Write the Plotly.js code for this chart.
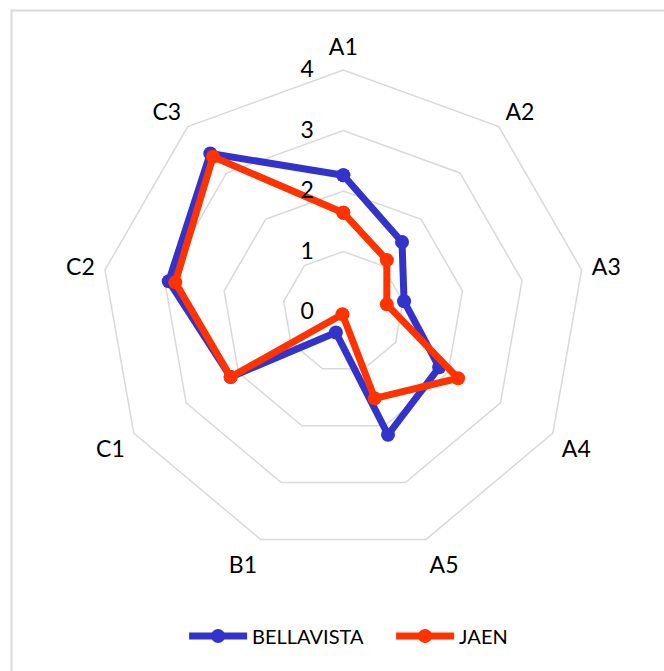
<!DOCTYPE html>
<html>
<head>
<meta charset="utf-8">
<script src="https://cdn.plot.ly/plotly-3.0.1.min.js"></script>
<style>html,body{margin:0;padding:0;background:#fff;}#chart{width:664px;height:671px;}</style>
</head>
<body>
<div id="chart"></div>
<script>
const categories = ["A1","A2","A3","A4","A5","B1","C1","C2","C3"];
const bellavista = [2.26, 1.51, 1.02, 1.83, 2.16, 0.36, 2.15, 2.93, 3.42];
const jaen = [1.64, 1.12, 0.73, 2.19, 1.52, 0.04, 2.15, 2.82, 3.35];
const seriesNames = ["BELLAVISTA", "JAEN"];
const radialTicks = [0, 1, 2, 3, 4];

function closeLoop(arr){ return arr.concat([arr[0]]); }

const FONT = "Lato, 'Noto Sans', sans-serif";
const traces = [
  {type:"scatterpolar", name:seriesNames[0], r:closeLoop(bellavista), theta:closeLoop(categories),
   mode:"lines+markers", line:{color:"#3333CC", width:7}, marker:{color:"#3333CC", size:14}},
  {type:"scatterpolar", name:seriesNames[1], r:closeLoop(jaen), theta:closeLoop(categories),
   mode:"lines+markers", line:{color:"#FF3300", width:7}, marker:{color:"#FF3300", size:14}}
];

const W=664, H=671, cx=343.3, cy=312, R=242;
const layout = {
  width:W, height:H,
  margin:{l:0,r:0,t:0,b:0},
  paper_bgcolor:"#fff",
  font:{family:FONT, color:"#000"},
  showlegend:true,
  legend:{orientation:"h", x:0.589, xanchor:"center", y:(H-636)/H, yanchor:"middle",
          font:{family:FONT, size:20, color:"#000"}, itemwidth:58, entrywidth:134,
          bgcolor:"rgba(0,0,0,0)"},
  polar:{
    domain:{x:[(cx-R)/W,(cx+R)/W], y:[(H-cy-R)/H,(H-cy+R)/H]},
    bgcolor:"#fff",
    gridshape:"linear",
    angularaxis:{direction:"clockwise", rotation:90, showgrid:false, showline:true,
      linecolor:"#d9d9d9", linewidth:1.5, ticks:"outside", ticklen:5, tickcolor:"rgba(0,0,0,0)",
      tickfont:{family:FONT, size:23, color:"#000"}},
    radialaxis:{range:[0,4], tickvals:radialTicks, showline:false, showgrid:true,
      gridcolor:"#d9d9d9", gridwidth:1.5, angle:90, side:"counterclockwise",
      ticks:"outside", ticklen:21, tickcolor:"rgba(0,0,0,0)", tickangle:90,
      tickfont:{family:FONT, size:23, color:"#000"}}
  },
  shapes:[{type:"rect", xref:"paper", yref:"paper", x0:11.5/W, x1:1.2, y0:-0.2, y1:1-10.5/H,
    line:{color:"#d9d9d9", width:2}, fillcolor:"rgba(0,0,0,0)", layer:"below"}]
};
Plotly.newPlot("chart", traces, layout, {displayModeBar:false, staticPlot:true});
</script>
</body>
</html>
